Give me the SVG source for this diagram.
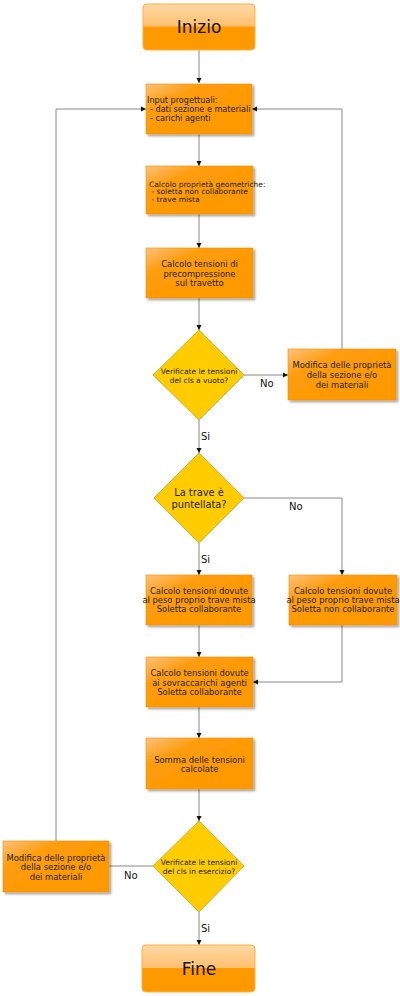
<svg xmlns="http://www.w3.org/2000/svg" width="400" height="996" viewBox="0 0 400 996">
<defs>
<linearGradient id="gloss" x1="0" y1="0" x2="0.6" y2="0.6">
<stop offset="0" stop-color="#ffc27a"/>
<stop offset="0.45" stop-color="#ff9d10"/>
<stop offset="1" stop-color="#ff9900"/>
</linearGradient>
<linearGradient id="term" x1="0" y1="0" x2="0" y2="1">
<stop offset="0" stop-color="#ffd9a6"/>
<stop offset="0.48" stop-color="#ffc070"/>
<stop offset="0.5" stop-color="#ff9900"/>
<stop offset="1" stop-color="#ff9900"/>
</linearGradient>
<filter id="sh" x="-10%" y="-10%" width="130%" height="140%">
<feGaussianBlur in="SourceAlpha" stdDeviation="1.2"/>
<feOffset dx="1.5" dy="2" result="o"/>
<feComponentTransfer><feFuncA type="linear" slope="0.35"/></feComponentTransfer>
<feMerge><feMergeNode/><feMergeNode in="SourceGraphic"/></feMerge>
</filter>
<marker id="arr" markerWidth="6" markerHeight="6" refX="5" refY="3" orient="auto" markerUnits="userSpaceOnUse">
<path d="M0,0.5 L5,3 L0,5.5 Z" fill="#111"/>
</marker>
</defs>
<style>
.box{fill:url(#gloss);stroke:#f08c00;stroke-width:0.6;filter:url(#sh)}
.term{fill:url(#term);stroke:#ffb040;stroke-width:1}
.dia{fill:#ffcc00;stroke:#c9a227;stroke-width:0.8}
.t{font-family:"DejaVu Sans",sans-serif;fill:#222;text-anchor:middle}
.l{text-anchor:start}
.s{font-size:8.4px}
.si{font-size:8.1px}
.xs{font-size:7.5px}
.lab{font-family:"DejaVu Sans",sans-serif;font-size:10px;fill:#111}
.big{font-family:"DejaVu Sans",sans-serif;font-size:17px;fill:#111;text-anchor:middle}
.c{fill:none;stroke:#888;stroke-width:1}
</style>

<g id="connectors">
<path class="c" d="M199,50 L199,83" marker-end="url(#arr)"/>
<path class="c" d="M199,134 L199,166" marker-end="url(#arr)"/>
<path class="c" d="M199,214 L199,248" marker-end="url(#arr)"/>
<path class="c" d="M199,298 L199,330" marker-end="url(#arr)"/>
<path class="c" d="M244,375 L288,375" marker-end="url(#arr)"/>
<path class="c" d="M342,349 L342,109 L252,109" marker-end="url(#arr)"/>
<path class="c" d="M199,420 L199,453" marker-end="url(#arr)"/>
<path class="c" d="M244,498 L342,498 L342,575" marker-end="url(#arr)"/>
<path class="c" d="M199,543 L199,575" marker-end="url(#arr)"/>
<path class="c" d="M199,625 L199,657" marker-end="url(#arr)"/>
<path class="c" d="M342,625 L342,682 L253,682" marker-end="url(#arr)"/>
<path class="c" d="M199,707 L199,738" marker-end="url(#arr)"/>
<path class="c" d="M199,789 L199,821" marker-end="url(#arr)"/>
<path class="c" d="M153,866 L109,866"/>
<path class="c" d="M56,841 L56,109 L146,109" marker-end="url(#arr)"/>
<path class="c" d="M199,912 L199,945" marker-end="url(#arr)"/>
<text class="lab" x="260" y="387">No</text>
<text class="lab" x="201" y="440">Si</text>
<text class="lab" x="289" y="510">No</text>
<text class="lab" x="201" y="563">Si</text>
<text class="lab" x="124" y="879">No</text>
<text class="lab" x="201" y="932">Si</text>
</g>

<g id="inizio">
<rect class="term" x="143" y="4" width="112" height="46" rx="4"/>
<text class="big" x="199" y="33">Inizio</text>
</g>

<g id="input">
<rect class="box" x="146" y="84" width="106" height="50"/>
<text class="t si l" x="147" y="103">Input progettuali:</text>
<text class="t si l" x="150" y="112">- dati sezione e materiali</text>
<text class="t si l" x="150" y="121">- carichi agenti</text>
</g>

<g id="geom">
<rect class="box" x="146" y="166" width="107" height="48"/>
<text class="t xs l" x="149" y="186.5">Calcolo proprietà geometriche:</text>
<text class="t xs l" x="151.5" y="194">- soletta non collaborante</text>
<text class="t xs l" x="151.5" y="201.5">- trave mista</text>
</g>

<g id="precomp">
<rect class="box" x="146" y="248" width="107" height="50"/>
<text class="t s" x="199.5" y="267">Calcolo tensioni di</text>
<text class="t s" x="199.5" y="277">precompressione</text>
<text class="t s" x="199.5" y="286">sul travetto</text>
</g>

<g id="verifica1">
<polygon class="dia" points="199,330 244,375 199,420 153,375"/>
<text class="t xs" x="199" y="374">Verificate le tensioni</text>
<text class="t xs" x="199" y="383">del cls a vuoto?</text>
</g>

<g id="modifica1">
<rect class="box" x="288" y="349" width="108" height="51"/>
<text class="t s" x="342" y="368">Modifica delle proprietà</text>
<text class="t s" x="342" y="378">della sezione e/o</text>
<text class="t s" x="342" y="388">dei materiali</text>
</g>

<g id="puntellata">
<polygon class="dia" points="199,453 244,498 199,543 154,498"/>
<text class="t" style="font-size:9.8px" x="199" y="496">La trave è</text>
<text class="t" style="font-size:9.8px" x="199" y="508">puntellata?</text>
</g>

<g id="peso-collab">
<rect class="box" x="146" y="575" width="106" height="50"/>
<text class="t s" x="199" y="594">Calcolo tensioni dovute</text>
<text class="t s" x="199" y="603">al peso proprio trave mista</text>
<text class="t s" x="199" y="612">Soletta collaborante</text>
</g>

<g id="peso-noncollab">
<rect class="box" x="289" y="575" width="108" height="50"/>
<text class="t s" x="343" y="594">Calcolo tensioni dovute</text>
<text class="t s" x="343" y="603">al peso proprio trave mista</text>
<text class="t s" x="343" y="612">Soletta non collaborante</text>
</g>

<g id="sovraccarichi">
<rect class="box" x="146" y="657" width="107" height="50"/>
<text class="t s" x="199.5" y="676">Calcolo tensioni dovute</text>
<text class="t s" x="199.5" y="686">ai sovraccarichi agenti</text>
<text class="t s" x="199.5" y="695">Soletta collaborante</text>
</g>

<g id="somma">
<rect class="box" x="146" y="738" width="107" height="51"/>
<text class="t s" x="199.5" y="763">Somma delle tensioni</text>
<text class="t s" x="199.5" y="772">calcolate</text>
</g>

<g id="verifica2">
<polygon class="dia" points="199,821 244,866 199,912 153,866"/>
<text class="t xs" x="199" y="865">Verificate le tensioni</text>
<text class="t xs" x="199" y="874">del cls in esercizio?</text>
</g>

<g id="modifica2">
<rect class="box" x="3" y="841" width="106" height="51"/>
<text class="t s" x="56" y="861">Modifica delle proprietà</text>
<text class="t s" x="56" y="870">della sezione e/o</text>
<text class="t s" x="56" y="880">dei materiali</text>
</g>

<g id="fine">
<rect class="term" x="142" y="945" width="113" height="47" rx="4"/>
<text class="big" x="199" y="975">Fine</text>
</g>
</svg>
